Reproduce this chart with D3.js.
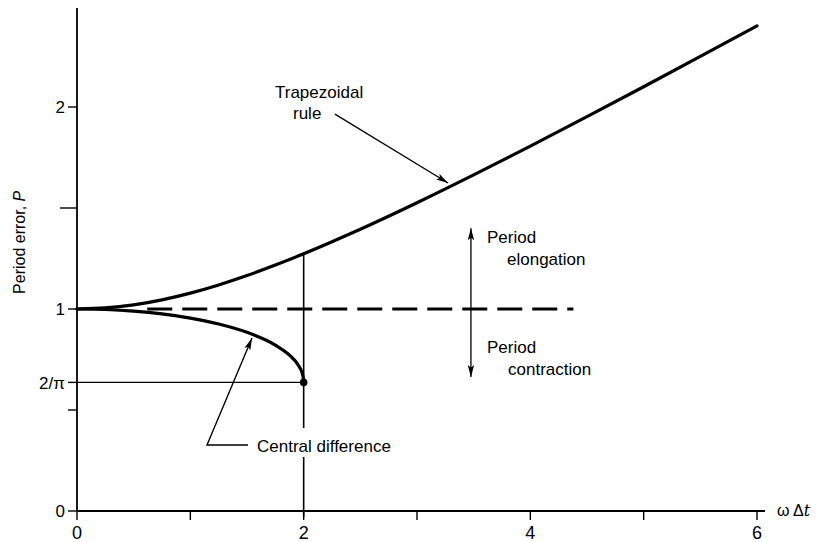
<!DOCTYPE html>
<html><head><meta charset="utf-8">
<script src="https://cdn.jsdelivr.net/npm/d3@7"></script>
<style>
body{margin:0;background:#fff}
svg{display:block}
text{font-family:"Liberation Sans",Arial,Helvetica,sans-serif;fill:#000}
</style>
</head><body>
<svg id="c" width="828" height="542"></svg>
<script>
// ---- data ----
const trapX = [0,0.25,0.5,0.75,1,1.25,1.5,1.75,2,2.25,2.5,3,3.5,4,4.5,5,5.5,6];
const trapP = [1,1.0052,1.0205,1.0452,1.0784,1.1189,1.1655,1.2173,1.2732,1.3327,1.3950,1.5263,1.6641,1.8064,1.9522,2.1003,2.2504,2.4018];
const centX = [0,0.25,0.5,0.75,1,1.25,1.5,1.75,1.875,1.95,1.99,1.999,2];
const centP = [1,0.9974,0.9894,0.9756,0.9549,0.9258,0.8844,0.8213,0.7714,0.7240,0.6765,0.6494,0.6366];
const neutralX = [0.62, 4.38];
const neutralP = [1, 1];
const xTickValues = [0,1,2,3,4,5,6];
const xTickLabels = ["0","","2","","4","","6"];
const yTickValues = [0,0.5,0.6366,1,1.5,2];
const yTickLabels = ["0","","2/π","1","","2"];

// ---- chart ----
const svg = d3.select("#c");
const x = d3.scaleLinear([0,6],[77,757]);
const y = d3.scaleLinear([0,2],[511,107]);

const defs = svg.append("defs");
defs.append("marker").attr("id","ah").attr("viewBox","0 0 12 8")
  .attr("refX",12).attr("refY",4).attr("markerWidth",12).attr("markerHeight",8)
  .attr("markerUnits","userSpaceOnUse").attr("orient","auto-start-reverse")
  .append("path").attr("d","M0,0.8 L12,4 L0,7.2 L2.5,4 z").attr("fill","#000");

// axes lines
svg.append("line").attr("x1",x(0)).attr("x2",x(0)).attr("y1",y(0)).attr("y2",y(2.49))
  .attr("stroke","#000").attr("stroke-width",1.8);
svg.append("line").attr("x1",x(0)).attr("x2",x(6.07)).attr("y1",y(0)).attr("y2",y(0))
  .attr("stroke","#000").attr("stroke-width",1.8);

// y ticks
yTickValues.forEach((v,i)=>{
  const len = (v===1.5) ? 17 : 9;
  svg.append("line").attr("x1",x(0)-len).attr("x2",x(0)).attr("y1",y(v)).attr("y2",y(v))
    .attr("stroke","#000").attr("stroke-width",1.4);
  if (yTickLabels[i]) svg.append("text").attr("x",x(0)-12).attr("y",y(v)).attr("dy","0.36em")
    .attr("text-anchor","end").attr("font-size",17).text(yTickLabels[i]);
});
// x ticks
xTickValues.forEach((v,i)=>{
  svg.append("line").attr("x1",x(v)).attr("x2",x(v)).attr("y1",y(0)).attr("y2",y(0)+9)
    .attr("stroke","#000").attr("stroke-width",1.4);
  if (xTickLabels[i]) svg.append("text").attr("x",x(v)).attr("y",y(0)+28)
    .attr("text-anchor","middle").attr("font-size",18).text(xTickLabels[i]);
});

// axis titles
const xt = svg.append("text").attr("x",x(6.07)+12).attr("y",y(0)+5).attr("font-size",16);
xt.append("tspan").text("ω Δ");
xt.append("tspan").attr("font-style","italic").attr("font-family","'DejaVu Serif',serif").text("t");
const yt = svg.append("text").attr("transform",`translate(25,${y(1.33)}) rotate(-90)`)
  .attr("text-anchor","middle").attr("font-size",16);
yt.append("tspan").text("Period error, ");
yt.append("tspan").attr("font-style","italic").text("P");

// reference lines
const twoOverPi = centP[centP.length-1];
svg.append("line").attr("x1",x(0)).attr("x2",x(2)).attr("y1",y(twoOverPi)).attr("y2",y(twoOverPi))
  .attr("stroke","#000").attr("stroke-width",1.4);
const labBase = y(0.292);
svg.append("line").attr("x1",x(2)).attr("x2",x(2)).attr("y1",y(trapP[8])).attr("y2",labBase-24)
  .attr("stroke","#000").attr("stroke-width",1.6);
svg.append("line").attr("x1",x(2)).attr("x2",x(2)).attr("y1",labBase+5).attr("y2",y(0)+6)
  .attr("stroke","#000").attr("stroke-width",1.6);

// curves
const line = d3.line().x(d=>x(d[0])).y(d=>y(d[1])).curve(d3.curveMonotoneX);
svg.append("path").attr("d",line(trapX.map((v,i)=>[v,trapP[i]])))
  .attr("fill","none").attr("stroke","#000").attr("stroke-width",3.2).attr("stroke-linecap","round");
svg.append("path").attr("d",line(centX.map((v,i)=>[v,centP[i]])))
  .attr("fill","none").attr("stroke","#000").attr("stroke-width",3.2).attr("stroke-linecap","round");
svg.append("path").attr("d",d3.line().x(d=>x(d[0])).y(d=>y(d[1]))(neutralX.map((v,i)=>[v,neutralP[i]])))
  .attr("fill","none").attr("stroke","#000").attr("stroke-width",3.2).attr("stroke-dasharray","25,10");
svg.append("circle").attr("cx",x(2)).attr("cy",y(twoOverPi)).attr("r",3.8).attr("fill","#000");

// annotations
svg.append("text").attr("x",x(1.747)).attr("y",y(2.045)).attr("font-size",17).text("Trapezoidal");
svg.append("text").attr("x",x(1.906)).attr("y",y(1.941)).attr("font-size",17).text("rule");
svg.append("line").attr("x1",x(2.276)).attr("y1",y(1.965)).attr("x2",x(3.274)).attr("y2",y(1.624))
  .attr("stroke","#000").attr("stroke-width",1.3).attr("marker-end","url(#ah)");

svg.append("text").attr("x",x(1.588)).attr("y",labBase).attr("font-size",17).text("Central difference");
svg.append("path").attr("d",`M${x(1.509)},${y(0.327)} L${x(1.147)},${y(0.327)} L${x(1.544)},${y(0.856)}`)
  .attr("fill","none").attr("stroke","#000").attr("stroke-width",1.4).attr("marker-end","url(#ah)");

svg.append("line").attr("x1",x(3.476)).attr("x2",x(3.476)).attr("y1",y(1.40)).attr("y2",y(0.663))
  .attr("stroke","#000").attr("stroke-width",1.3)
  .attr("marker-start","url(#ah)").attr("marker-end","url(#ah)");
svg.append("text").attr("x",x(3.618)).attr("y",y(1.327)).attr("font-size",17).text("Period");
svg.append("text").attr("x",x(3.794)).attr("y",y(1.218)).attr("font-size",17).text("elongation");
svg.append("text").attr("x",x(3.618)).attr("y",y(0.782)).attr("font-size",17).text("Period");
svg.append("text").attr("x",x(3.803)).attr("y",y(0.673)).attr("font-size",17).text("contraction");
</script>
</body></html>
